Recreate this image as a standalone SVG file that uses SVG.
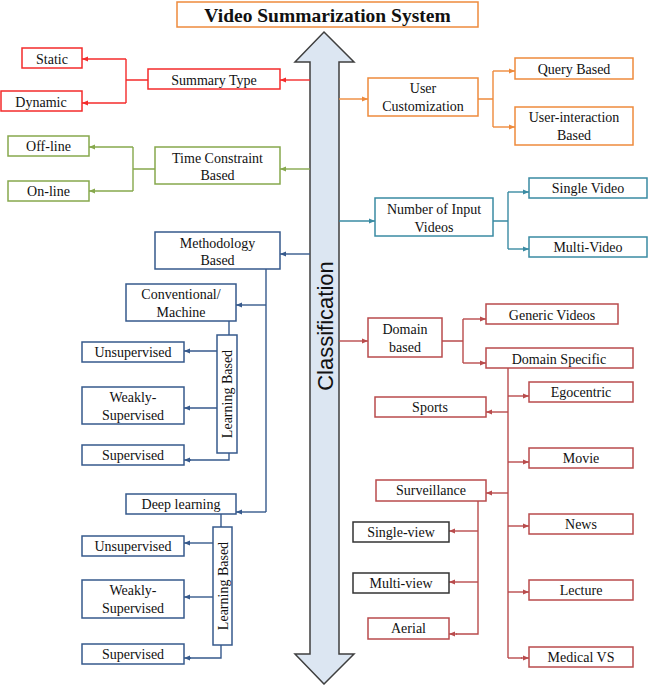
<svg xmlns="http://www.w3.org/2000/svg" width="648" height="685" viewBox="0 0 648 685">
<style>
text{font-family:"Liberation Serif","Times New Roman",serif;font-size:14px;fill:#111;text-anchor:middle}
rect{fill:#fff;stroke-width:1.5}
.c path,.c line{fill:none;stroke-width:1.4}
.red rect,.red path,.red line{stroke:#f42b2b}
.org rect,.org path,.org line{stroke:#ee8a3c}
.grn rect,.grn path,.grn line{stroke:#86a84c}
.blu rect,.blu path,.blu line{stroke:#36598c}
.teal rect,.teal path,.teal line{stroke:#3a8ba3}
.drd rect,.drd path,.drd line{stroke:#b94b4c}
.blk rect{stroke:#333}
</style>
<defs>
<marker id="ar" markerUnits="userSpaceOnUse" markerWidth="6" markerHeight="6" refX="6" refY="3" orient="auto"><path d="M0,0.5 L6,3 L0,5.5 Z" fill="#f42b2b"/></marker>
<marker id="ao" markerUnits="userSpaceOnUse" markerWidth="6" markerHeight="6" refX="6" refY="3" orient="auto"><path d="M0,0.5 L6,3 L0,5.5 Z" fill="#ee8a3c"/></marker>
<marker id="ag" markerUnits="userSpaceOnUse" markerWidth="6" markerHeight="6" refX="6" refY="3" orient="auto"><path d="M0,0.5 L6,3 L0,5.5 Z" fill="#86a84c"/></marker>
<marker id="ab" markerUnits="userSpaceOnUse" markerWidth="6" markerHeight="6" refX="6" refY="3" orient="auto"><path d="M0,0.5 L6,3 L0,5.5 Z" fill="#36598c"/></marker>
<marker id="at" markerUnits="userSpaceOnUse" markerWidth="6" markerHeight="6" refX="6" refY="3" orient="auto"><path d="M0,0.5 L6,3 L0,5.5 Z" fill="#3a8ba3"/></marker>
<marker id="ad" markerUnits="userSpaceOnUse" markerWidth="6" markerHeight="6" refX="6" refY="3" orient="auto"><path d="M0,0.5 L6,3 L0,5.5 Z" fill="#b94b4c"/></marker>
</defs>

<g id="title">
<rect x="177" y="2" width="301" height="25" style="stroke:#ee8a3c"/>
<text x="327.5" y="21.5" style="font-weight:bold;font-size:19.5px">Video Summarization System</text>
</g>

<g id="classification">
<path d="M324,32 L354,62 L339,62 L339,654 L354,654 L324,684 L295,654 L310,654 L310,62 L295,62 Z" fill="#dce6f2" stroke="#3f3f3f" stroke-width="1.5"/>
<text transform="translate(333,326) rotate(-90)" style="font-family:'Liberation Sans',Arial,sans-serif;font-size:22px">Classification</text>
</g>

<g id="connectors" class="c">
<g class="red">
<line x1="310" y1="80" x2="280" y2="80" marker-end="url(#ar)"/>
<path d="M148,80 H126 M126,59 V103"/>
<line x1="126" y1="59" x2="82" y2="59" marker-end="url(#ar)"/>
<line x1="126" y1="103" x2="82" y2="103" marker-end="url(#ar)"/>
</g>
<g class="org">
<line x1="339" y1="99" x2="368" y2="99" marker-end="url(#ao)"/>
<path d="M478,99 H493 M493,71 V127"/>
<line x1="493" y1="71" x2="515" y2="71" marker-end="url(#ao)"/>
<line x1="493" y1="127" x2="515" y2="127" marker-end="url(#ao)"/>
</g>
<g class="grn">
<line x1="310" y1="169" x2="280" y2="169" marker-end="url(#ag)"/>
<path d="M155,169 H133 M133,147 V191"/>
<line x1="133" y1="147" x2="89" y2="147" marker-end="url(#ag)"/>
<line x1="133" y1="191" x2="89" y2="191" marker-end="url(#ag)"/>
</g>
<g class="blu">
<line x1="310" y1="254" x2="280" y2="254" marker-end="url(#ab)"/>
<path d="M266,269 V512"/>
<line x1="266" y1="305" x2="236" y2="305" marker-end="url(#ab)"/>
<line x1="266" y1="512" x2="236" y2="512" marker-end="url(#ab)"/>
<path d="M229,321 V335"/>
<line x1="217" y1="351" x2="184" y2="351" marker-end="url(#ab)"/>
<line x1="217" y1="408" x2="184" y2="408" marker-end="url(#ab)"/>
<path d="M229,453 V460 H190"/>
<line x1="191" y1="460" x2="184" y2="460" marker-end="url(#ab)"/>
<path d="M221,514 V527"/>
<line x1="213" y1="543" x2="184" y2="543" marker-end="url(#ab)"/>
<line x1="213" y1="597" x2="184" y2="597" marker-end="url(#ab)"/>
<path d="M221,645 V658 H190"/>
<line x1="191" y1="658" x2="184" y2="658" marker-end="url(#ab)"/>
</g>
<g class="teal">
<line x1="339" y1="221" x2="375" y2="221" marker-end="url(#at)"/>
<path d="M493,221 H508 M508,192 V249"/>
<line x1="508" y1="192" x2="529" y2="192" marker-end="url(#at)"/>
<line x1="508" y1="249" x2="529" y2="249" marker-end="url(#at)"/>
</g>
<g class="drd">
<line x1="339" y1="341" x2="368" y2="341" marker-end="url(#ad)"/>
<path d="M442,341 H463 M463,319 V363"/>
<line x1="463" y1="319" x2="486" y2="319" marker-end="url(#ad)"/>
<line x1="463" y1="363" x2="486" y2="363" marker-end="url(#ad)"/>
<path d="M508,368 V658"/>
<line x1="508" y1="396" x2="529" y2="396" marker-end="url(#ad)"/>
<line x1="508" y1="412" x2="486" y2="412" marker-end="url(#ad)"/>
<line x1="508" y1="462" x2="529" y2="462" marker-end="url(#ad)"/>
<line x1="508" y1="493" x2="486" y2="493" marker-end="url(#ad)"/>
<line x1="508" y1="526" x2="529" y2="526" marker-end="url(#ad)"/>
<line x1="508" y1="592" x2="529" y2="592" marker-end="url(#ad)"/>
<path d="M508,658 H522"/>
<line x1="521" y1="658" x2="529" y2="658" marker-end="url(#ad)"/>
<path d="M478,501 V634 H456"/>
<line x1="478" y1="531" x2="449" y2="531" marker-end="url(#ad)"/>
<line x1="478" y1="582" x2="449" y2="582" marker-end="url(#ad)"/>
<line x1="457" y1="634" x2="449" y2="634" marker-end="url(#ad)"/>
</g>
</g>

<g class="red">
<g id="summary-type"><rect x="148" y="69" width="132" height="20"/><text x="214" y="84.5">Summary Type</text></g>
<g id="static"><rect x="22" y="48" width="60" height="20"/><text x="52" y="63.5">Static</text></g>
<g id="dynamic"><rect x="1" y="91" width="81" height="20"/><text x="41" y="106.5">Dynamic</text></g>
</g>

<g class="org">
<g id="user-customization"><rect x="368" y="78" width="110" height="38"/><text x="423" y="93">User</text><text x="423" y="111">Customization</text></g>
<g id="query-based"><rect x="515" y="58" width="118" height="21"/><text x="574" y="73.5">Query Based</text></g>
<g id="user-interaction"><rect x="515" y="107" width="118" height="38"/><text x="574" y="122">User-interaction</text><text x="574" y="140">Based</text></g>
</g>

<g class="grn">
<g id="time-constraint"><rect x="155" y="147" width="125" height="37"/><text x="217.5" y="162.5">Time Constraint</text><text x="217.5" y="180">Based</text></g>
<g id="off-line"><rect x="8" y="136" width="81" height="20"/><text x="48.5" y="151">Off-line</text></g>
<g id="on-line"><rect x="8" y="181" width="81" height="20"/><text x="48.5" y="196">On-line</text></g>
</g>

<g class="blu">
<g id="methodology"><rect x="155" y="232" width="125" height="37"/><text x="217.5" y="247.5">Methodology</text><text x="217.5" y="264.5">Based</text></g>
<g id="conventional"><rect x="126" y="284" width="110" height="37"/><text x="181" y="299">Conventional/</text><text x="181" y="317">Machine</text></g>
<g id="learning-based-1"><rect x="217" y="335" width="20" height="118"/><text transform="translate(232,394) rotate(-90)">Learning Based</text></g>
<g id="unsupervised-1"><rect x="82" y="342" width="102" height="20"/><text x="133" y="357">Unsupervised</text></g>
<g id="weakly-1"><rect x="82" y="387" width="102" height="37"/><text x="133" y="402">Weakly-</text><text x="133" y="420">Supervised</text></g>
<g id="supervised-1"><rect x="82" y="445" width="102" height="20"/><text x="133" y="460">Supervised</text></g>
<g id="deep-learning"><rect x="126" y="494" width="110" height="20"/><text x="181" y="509">Deep learning</text></g>
<g id="learning-based-2"><rect x="213" y="527" width="19" height="118"/><text transform="translate(227.5,586) rotate(-90)">Learning Based</text></g>
<g id="unsupervised-2"><rect x="82" y="536" width="102" height="20"/><text x="133" y="551">Unsupervised</text></g>
<g id="weakly-2"><rect x="82" y="580" width="102" height="38"/><text x="133" y="595">Weakly-</text><text x="133" y="613">Supervised</text></g>
<g id="supervised-2"><rect x="82" y="644" width="102" height="20"/><text x="133" y="659">Supervised</text></g>
</g>

<g class="teal">
<g id="num-input"><rect x="375" y="198" width="118" height="38"/><text x="434" y="214">Number of Input</text><text x="434" y="232">Videos</text></g>
<g id="single-video"><rect x="529" y="178" width="118" height="20"/><text x="588" y="193">Single Video</text></g>
<g id="multi-video"><rect x="529" y="237" width="118" height="20"/><text x="588" y="252">Multi-Video</text></g>
</g>

<g class="drd">
<g id="domain-based"><rect x="368" y="318" width="74" height="39"/><text x="405" y="334">Domain</text><text x="405" y="352">based</text></g>
<g id="generic"><rect x="486" y="304" width="132" height="20"/><text x="552" y="319.5">Generic Videos</text></g>
<g id="domain-specific"><rect x="486" y="348" width="147" height="20"/><text x="559" y="363.5">Domain Specific</text></g>
<g id="egocentric"><rect x="529" y="382" width="104" height="20"/><text x="581" y="397">Egocentric</text></g>
<g id="sports"><rect x="375" y="397" width="111" height="20"/><text x="430" y="412">Sports</text></g>
<g id="movie"><rect x="529" y="448" width="104" height="20"/><text x="581" y="463">Movie</text></g>
<g id="surveillance"><rect x="376" y="480" width="110" height="21"/><text x="431" y="495">Surveillance</text></g>
<g id="news"><rect x="529" y="514" width="104" height="20"/><text x="581" y="529">News</text></g>
<g id="lecture"><rect x="529" y="580" width="104" height="20"/><text x="581" y="595">Lecture</text></g>
<g id="medical"><rect x="529" y="647" width="104" height="20"/><text x="581" y="662">Medical VS</text></g>
<g id="aerial"><rect x="368" y="618" width="81" height="21"/><text x="408.5" y="633">Aerial</text></g>
</g>
<g class="blk">
<g id="single-view"><rect x="353" y="522" width="96" height="20"/><text x="401" y="537">Single-view</text></g>
<g id="multi-view"><rect x="353" y="573" width="96" height="20"/><text x="401" y="588">Multi-view</text></g>
</g>
</svg>
